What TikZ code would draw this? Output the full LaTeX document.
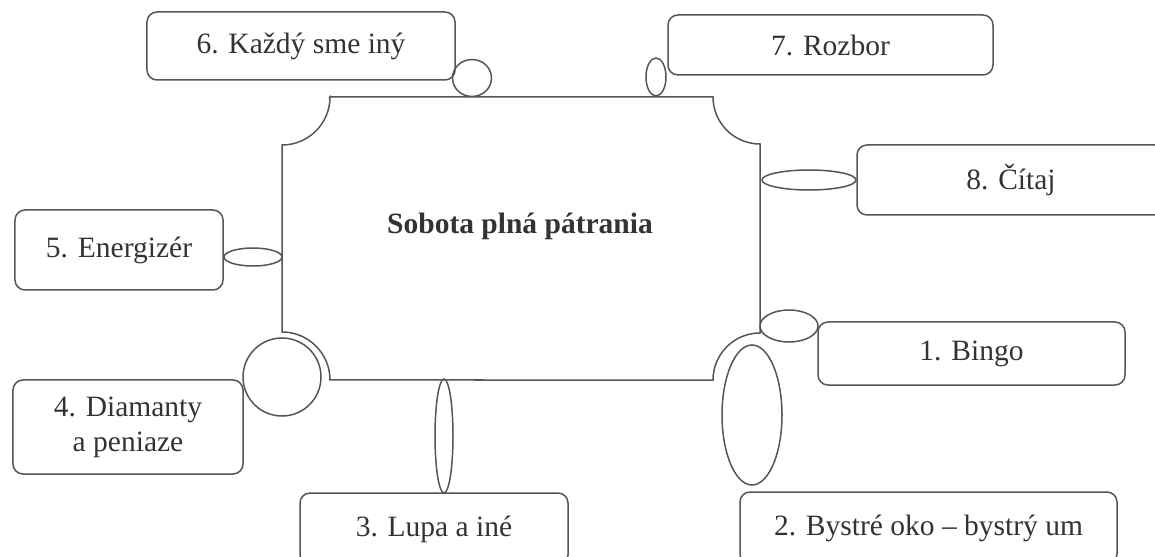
\documentclass[tikz,border=0pt]{standalone}
\usepackage{fontspec}
\setmainfont{Liberation Serif}
\usetikzlibrary{shapes.geometric}
\definecolor{linec}{HTML}{555555}
\definecolor{textc}{HTML}{333333}
\tikzset{
  stage/.style={draw=linec, line width=1.5bp, rounded corners=10bp, inner sep=0pt,
    text=textc, align=center, font=\fontsize{29.5bp}{35bp}\selectfont},
  link/.style={draw=linec, line width=1.5bp, ellipse, inner sep=0pt},
  hub/.style={draw=linec, line width=1.5bp}
}
\begin{document}
\begin{tikzpicture}[x=1bp,y=-1bp]
\useasboundingbox (0,0) rectangle (1155,557);
% central shape
\draw[hub] (330,97) -- (713,97) arc[start angle=180, end angle=270, radius=47bp]
  -- (760,333) arc[start angle=90, end angle=180, radius=47bp]
  -- (330,380) arc[start angle=0, end angle=90, radius=48bp]
  -- (282,145) arc[start angle=270, end angle=360, radius=48bp] -- cycle;
\node[text=textc, font=\bfseries\fontsize{29.5bp}{35bp}\selectfont] (title) at (520,226) {Sobota plná pátrania};
% boxes
\node[stage, minimum width=308bp, minimum height=68bp] (b6) at (301,46) {6. Každý sme iný};
\node[stage, minimum width=325bp, minimum height=60bp] (b7) at (830.5,45) {7. Rozbor};
\node[stage, minimum width=308bp, minimum height=70bp] (b8) at (1011,180) {8. Čítaj};
\node[stage, minimum width=208bp, minimum height=80bp] (b5) at (119,250) {5. Energizér};
\node[stage, minimum width=230bp, minimum height=94bp] (b4) at (128,427) {4. Diamanty\\a peniaze};
\node[stage, minimum width=307bp, minimum height=63bp] (b1) at (971.5,353.5) {1. Bingo};
\node[stage, minimum width=377bp, minimum height=72bp] (b2) at (928.5,528) {2. Bystré oko – bystrý um};
\node[stage, minimum width=268bp, minimum height=72bp] (b3) at (434,529) {3. Lupa a iné};
% ellipses
\node[link, minimum width=39bp, minimum height=37bp] (e6) at (472,78) {};
\node[link, minimum width=20bp, minimum height=38bp] (e7) at (656,77) {};
\node[link, minimum width=94bp, minimum height=20bp] (e8) at (809,180) {};
\node[link, minimum width=58bp, minimum height=18bp] (e5) at (253,257) {};
\node[link, minimum width=58bp, minimum height=32bp] (e1) at (789,326) {};
\node[link, minimum width=60bp, minimum height=140bp] (e2) at (752,415) {};
\node[link, minimum width=18bp, minimum height=114bp] (e3) at (444,436) {};
\node[link, minimum width=78bp, minimum height=78bp] (e4) at (282,377) {};
\end{tikzpicture}
\end{document}
